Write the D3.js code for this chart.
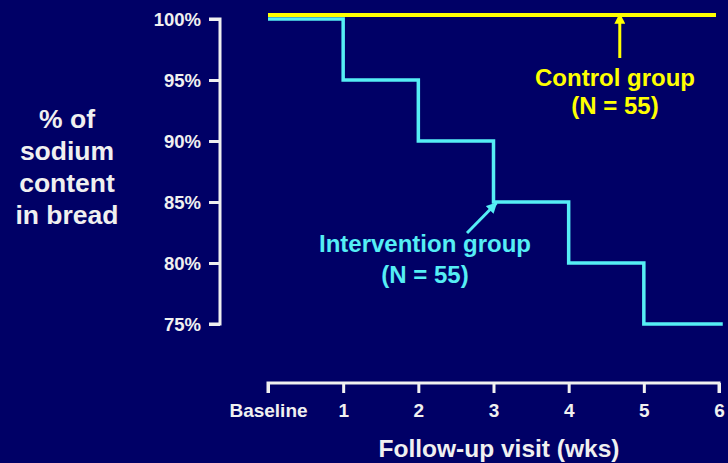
<!DOCTYPE html>
<html><head><meta charset="utf-8">
<script src="https://cdn.jsdelivr.net/npm/d3@7"></script>
<style>html,body{margin:0;padding:0;background:#000066;}svg{display:block;}</style>
</head><body>
<svg id="c" width="728" height="463"></svg>
<script>
const weeks = [0, 1, 2, 3, 4, 5, 6];
const weekLabels = ["Baseline", "1", "2", "3", "4", "5", "6"];
const controlValues = [100, 100, 100, 100, 100, 100, 100];
const interventionValues = [100, 95, 90, 85, 80, 75, 75];
const yTicks = [100, 95, 90, 85, 80, 75];

const svg = d3.select("#c");
const W = 728, H = 463;
svg.append("rect").attr("width", W).attr("height", H).attr("fill", "#000066");

const x = d3.scaleLinear().domain([0, 6]).range([268, 719]);
const y = d3.scaleLinear().domain([75, 100]).range([324, 19]);
const font = "Arial, 'Liberation Sans', sans-serif";
const white = "#f0f0f0";

// Y axis (bracket style)
const yAxis = d3.axisLeft(y).tickValues(yTicks).tickFormat(d => d + "%").tickSize(11).tickPadding(8);
const gy = svg.append("g").attr("transform", "translate(220,0)").call(yAxis);
gy.select(".domain").attr("stroke", white).attr("stroke-width", 3).attr("d", "M-11," + y(100) + "H0V" + y(75) + "H-11");
gy.selectAll(".tick line").attr("stroke", white).attr("stroke-width", 3);
gy.selectAll(".tick text").attr("fill", white).attr("font-family", font).attr("font-weight", "bold").attr("font-size", 18.5).attr("dy", "0.36em");

// X axis
const xAxis = d3.axisBottom(x).tickValues(weeks).tickFormat((d, i) => weekLabels[i]).tickSize(10).tickPadding(8);
const gx = svg.append("g").attr("transform", "translate(0,383)").call(xAxis);
gx.select(".domain").attr("stroke", white).attr("stroke-width", 3).attr("d", "M" + x(0) + ",10V0H" + x(6) + "V10");
gx.selectAll(".tick line").attr("stroke", white).attr("stroke-width", 3);
gx.selectAll(".tick text").attr("fill", white).attr("font-family", font).attr("font-weight", "bold").attr("font-size", 19)
  .attr("y", 0).attr("dy", 0).attr("transform", "translate(0,34)");

// Lines
const intLine = d3.line().x(d => x(d[0])).y(d => y(d[1])).curve(d3.curveStepAfter);
const intPts = weeks.slice(0, 6).map((w, i) => [w, interventionValues[i]]);
intPts.push([6.05, interventionValues[6]]);
svg.append("path").attr("d", intLine(intPts))
  .attr("fill", "none").attr("stroke", "#55eef5").attr("stroke-width", 3.5);

const ctlLine = d3.line().x(d => x(d[0])).y(d => y(d[1]));
svg.append("path").attr("d", ctlLine(weeks.map((w, i) => [w === 6 ? 5.96 : w, controlValues[i]])))
  .attr("transform", "translate(0,-4)")
  .attr("fill", "none").attr("stroke", "#ffff00").attr("stroke-width", 4);

// Arrow markers
const defs = svg.append("defs");
function marker(id, col) {
  defs.append("marker").attr("id", id).attr("viewBox", "0 0 10 10").attr("refX", 9).attr("refY", 5)
    .attr("markerWidth", 3.6).attr("markerHeight", 3.6).attr("orient", "auto")
    .append("path").attr("d", "M0,0L10,5L0,10Z").attr("fill", col);
}
marker("ay", "#ffff00");
marker("ac", "#55eef5");

// Control annotation
svg.append("line").attr("x1", x(4.68)).attr("x2", x(4.68)).attr("y1", 58).attr("y2", y(100) - 5)
  .attr("stroke", "#ffff00").attr("stroke-width", 3).attr("marker-end", "url(#ay)");
const ct = svg.append("text").attr("fill", "#ffff00").attr("font-family", font).attr("font-weight", "bold")
  .attr("font-size", 24).attr("text-anchor", "middle");
ct.append("tspan").attr("x", 615).attr("y", 86).text("Control group");
ct.append("tspan").attr("x", 615).attr("y", 114).text("(N = 55)");

// Intervention annotation
svg.append("line").attr("x1", 467).attr("y1", 233).attr("x2", x(3) + 3).attr("y2", y(85) + 1)
  .attr("stroke", "#55eef5").attr("stroke-width", 3).attr("marker-end", "url(#ac)");
const it = svg.append("text").attr("fill", "#55eef5").attr("font-family", font).attr("font-weight", "bold")
  .attr("font-size", 24).attr("text-anchor", "middle");
it.append("tspan").attr("x", 425).attr("y", 252).text("Intervention group");
it.append("tspan").attr("x", 425).attr("y", 283).text("(N = 55)");

// Y title
const yt = svg.append("text").attr("fill", white).attr("font-family", font).attr("font-weight", "bold")
  .attr("font-size", 26.5).attr("text-anchor", "middle");
["% of", "sodium", "content", "in bread"].forEach((s, i) => {
  yt.append("tspan").attr("x", 67).attr("y", 128 + i * 32).text(s);
});

// X title
svg.append("text").attr("x", 499).attr("y", 457).attr("fill", white).attr("font-family", font)
  .attr("font-weight", "bold").attr("font-size", 24.5).attr("text-anchor", "middle").text("Follow-up visit (wks)");
</script>
</body></html>
